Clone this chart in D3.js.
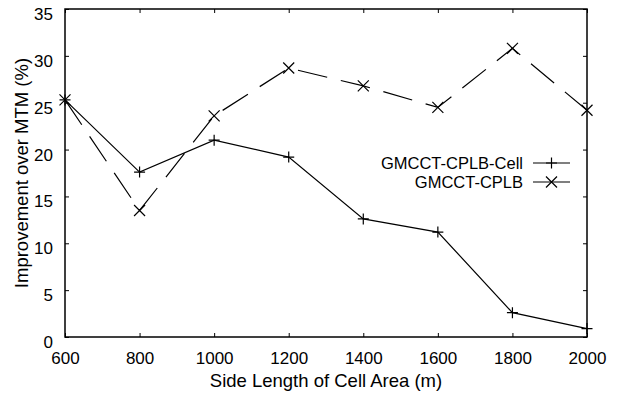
<!DOCTYPE html>
<html>
<head>
<meta charset="utf-8">
<script src="https://cdn.jsdelivr.net/npm/d3@7"></script>
<style>
  body { margin: 0; background: #fff; }
  text { font-family: "Liberation Sans", Arial, sans-serif; fill: #000; }
</style>
</head>
<body>
<div id="chart"></div>
<script>
var sideLength = [600, 800, 1000, 1200, 1400, 1600, 1800, 2000];
var cellValues = [25.3, 17.6, 21.0, 19.2, 12.6, 11.2, 2.6, 0.9];
var cplbValues = [25.3, 13.5, 23.6, 28.7, 26.8, 24.5, 30.8, 24.2];
var yTicks = [0, 5, 10, 15, 20, 25, 30, 35];
var seriesNames = ["GMCCT-CPLB-Cell", "GMCCT-CPLB"];

var margin = {top: 9, right: 31, bottom: 59, left: 65},
width = 618 - margin.left - margin.right,
height = 396 - margin.top - margin.bottom;

var svg = d3.select('#chart')
  .append('svg')
    .attr('width', width + margin.left + margin.right)
    .attr('height', height + margin.top + margin.bottom)
  .append('g')
    .attr('transform','translate('+margin.left+','+margin.top+')');

var x = d3.scaleLinear()
  .domain([600, 2000])
  .range([0, width]);

var y = d3.scaleLinear()
  .domain([0, 35])
  .range([height, 0]);

// inward ticks, mirrored on all sides
function styleAxis(g) {
  g.select(".domain").remove();
  g.selectAll("line").attr("stroke", "#000").attr("stroke-width", 1);
  g.selectAll("text").style("font-size", "17px");
}

svg.append("g")
  .attr("transform","translate(0,"+height+")")
  .call(d3.axisBottom(x).tickValues(sideLength).tickFormat(d3.format("d")).tickSizeInner(-4).tickPadding(15))
  .call(styleAxis);

svg.append("g")
  .call(d3.axisTop(x).tickValues(sideLength).tickSizeInner(-4).tickFormat(""))
  .call(styleAxis);

svg.append("g")
  .call(d3.axisLeft(y).tickValues(yTicks).tickSizeInner(-4).tickPadding(12))
  .call(styleAxis)
  .selectAll("text").attr("dy", "0.62em");

svg.append("g")
  .attr("transform","translate("+width+",0)")
  .call(d3.axisRight(y).tickValues(yTicks).tickSizeInner(-4).tickFormat(""))
  .call(styleAxis);

// frame
svg.append("rect")
  .attr("width", width)
  .attr("height", height)
  .attr("fill", "none")
  .attr("stroke", "#000")
  .attr("stroke-width", 1.5);

// labels
svg.append("text")
  .attr("x", width/2)
  .attr("y", height + 50)
  .style("text-anchor","middle")
  .style("font-size","18.5px")
  .text("Side Length of Cell Area (m)");

svg.append("text")
  .attr("transform","rotate(-90)")
  .attr("x", -(height/2))
  .attr("y", -37)
  .style("text-anchor","middle")
  .style("font-size","18.5px")
  .text("Improvement over MTM (%)");

var line = d3.line()
  .x(function(d, i) { return x(sideLength[i]); })
  .y(function(d) { return y(d); });

svg.append("path")
  .datum(cellValues)
  .attr("d", line)
  .attr("fill", "none")
  .attr("stroke", "#000")
  .attr("stroke-width", 1.2);

svg.append("path")
  .datum(cplbValues)
  .attr("d", line)
  .attr("fill", "none")
  .attr("stroke", "#000")
  .attr("stroke-width", 1.2)
  .attr("stroke-dasharray", "30,14");

var s = 5.5;
function plus(sel) {
  sel.attr("d", "M" + (-s) + ",0H" + s + "M0," + (-s) + "V" + s);
}
function cross(sel) {
  sel.attr("d", "M" + (-s) + "," + (-s) + "L" + s + "," + s + "M" + (-s) + "," + s + "L" + s + "," + (-s));
}

svg.selectAll("cellpt")
  .data(cellValues)
  .enter()
  .append("path")
    .attr("transform", function(d, i) { return "translate(" + x(sideLength[i]) + "," + y(d) + ")"; })
    .attr("stroke", "#000")
    .attr("stroke-width", 1.2)
    .call(plus);

svg.selectAll("cplbpt")
  .data(cplbValues)
  .enter()
  .append("path")
    .attr("transform", function(d, i) { return "translate(" + x(sideLength[i]) + "," + y(d) + ")"; })
    .attr("stroke", "#000")
    .attr("stroke-width", 1.2)
    .call(cross);

// legend
var legend = svg.selectAll("legend")
  .data(seriesNames)
  .enter()
  .append("g")
    .attr("transform", function(d, i) { return "translate(" + (523 - margin.left) + "," + (163 - margin.top + i * 19) + ")"; });

legend.append("text")
  .attr("dy", "0.35em")
  .style("text-anchor", "end")
  .style("font-size", "16.5px")
  .text(function(d) { return d; });

legend.append("line")
  .attr("x1", 10).attr("x2", 47)
  .attr("stroke", "#000")
  .attr("stroke-width", 1.2);

legend.append("path")
  .attr("transform", "translate(28.5,0)")
  .attr("stroke", "#000")
  .attr("stroke-width", 1.2)
  .each(function(d, i) { d3.select(this).call(i === 0 ? plus : cross); });
</script>
</body>
</html>
